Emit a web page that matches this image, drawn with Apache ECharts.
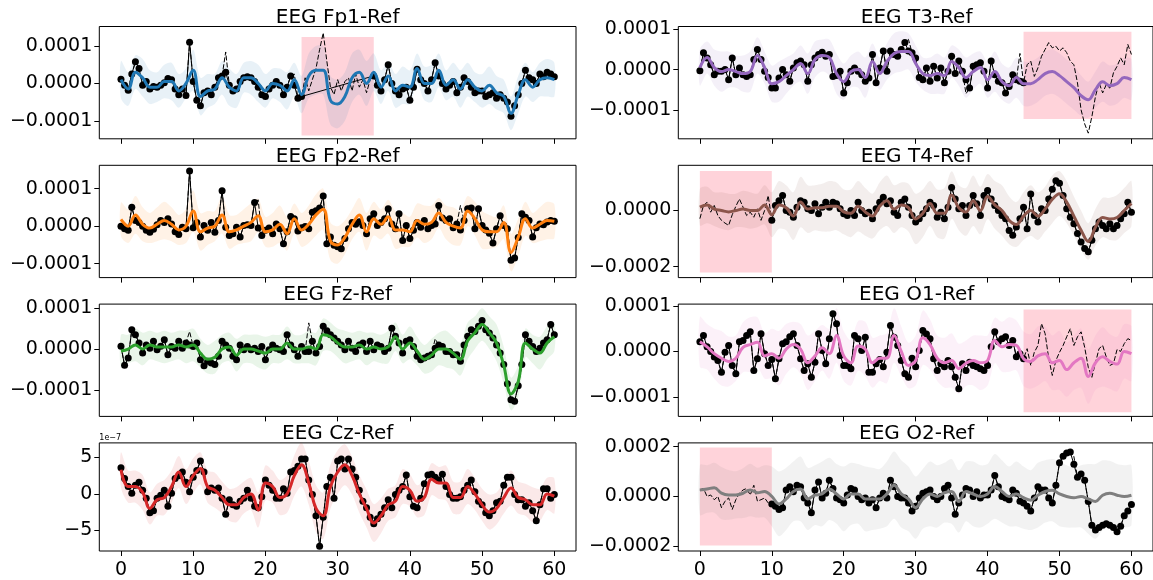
<!DOCTYPE html>
<html><head><meta charset="utf-8">
<script src="https://cdn.jsdelivr.net/npm/echarts@6/dist/echarts.min.js"></script>
<style>html,body{margin:0;padding:0;background:#fff}#c{width:1153px;height:580px}</style>
</head><body><div id="c"></div>
<script>
const N = null;
// x positions: observations every 0.5 s (0..60), mean / band every 1 s (0..60)
const xTickValues = [0, 10, 20, 30, 40, 50, 60];
const yTicks10 = [-10, 0, 10];
const yTicks20 = [-20, 0, 20];
const yTicksT4 = [-20, 0];
const yTicksCz = [-5, 0, 5];

// ---- EEG Fp1-Ref (units 1e-5) ----
const fp1Obs = [
1.1,-0.5,-1.8,2.5,5.8,4.0,-0.5,0.5,-1.5,-0.8,
-1.0,-0.5,0.2,1.3,1.0,-1.5,-3.0,-1.5,-3.2,11.0,
0.5,-4.5,-6.0,-2.5,-2.0,-3.0,-1.0,1.5,2.0,3.0,
-0.5,-2.0,-1.5,0.5,1.5,1.8,1.5,0.5,-1.0,-3.0,
-3.5,-1.5,-0.5,0.5,-0.5,-3.0,-1.0,2.0,-0.5,-4.0,
-3.5,
N,N,N,N,N,N,N,N,N,N,N,N,N,N,N,N,N,N,N,
2,-0.5,-2,1,5,0,-2,-3,-1.5,-1,
-4.5,-1,3.8,1,0,-2,1,5.5,2,0,
-1.5,-0.5,0.5,-2.5,-1,1.5,0.5,-1,-2.5,-2,
-2,-3.5,-3,-2.5,-4,-3,-4,-5,-8.8,-6,
-3,0,3.5,1.5,1,0,2.5,1.8,3,2.5,
1.8];
const fp1GapTruthStart = 25.5;
const fp1GapTruth = [1.5,-2,1,4,9,13.5,6,-1,-3,1,-2,0.5,1.5,-2,2.5,-1,1,-2.5,1];
const fp1TruthDiff = [[14.5, 8.4], [24, 2.5]];
const fp1Mean = [
1,-1.5,3,1.5,-1,-1,0.5,0.5,-2,0,
3.5,-3.5,-2,-1.5,1.5,-1,-2,1.5,1.5,0,
-2,0,-0.5,-2,1,-3,2,3.5,3.5,-4.5,
-5.5,-3.5,1.5,3,0,3,-1,2,-2,-0.5,
-1,4,0,0,3.5,-0.5,1,-1.5,1,-1,
-2,-0.5,-2.5,-3.5,-8,-3,1,-1,1,1.5,
1];
const fp1Width = [
5,4.5,4.5,5,4.5,4,4.5,5,4.5,4,
5.5,5,4.5,4,4.5,5,4.5,4,4.5,5,
4.5,4,4.5,5,4.5,5,6,6.5,6.5,6.5,
6.5,6.5,6.5,6,6,5,4.5,4,4.5,5,
4.5,4,4.5,5,4.5,4,4.5,5,4.5,4,
4.5,5,4.5,4.5,4.5,5,4.5,4,4.5,5,
4.5];
const fp1Region = [25, 35, -13.9, 12.4];
const fp1YRange = [-14.8, 15.2];

// ---- EEG Fp2-Ref ----
const fp2Obs = [
0,-0.7,-1.1,5.0,1.5,1.0,0,-1.1,-1.6,-0.8,
0.4,1.5,1.0,2.0,0.6,-1.5,-2.2,-0.3,-0.7,14.7,
-0.4,1.0,-2.9,0.2,-1.1,1.0,-1.6,1.5,9.4,-0.3,
-2.5,-2.0,-0.3,-2.9,0.2,0.4,0.2,6.3,-0.5,-2.5,
-1.1,-0.5,-2.0,0.6,-0.7,-4.7,-1.5,2.6,2.0,-1.3,
-0.4,-0.1,-0.7,3.7,4.1,4.8,8.0,-4.7,-2.9,-5.1,
-5.5,-6.0,-3.3,-0.7,1.0,0.5,1.2,0.2,-2.0,2.0,
3.3,0.2,1.0,2.0,4.6,0.6,-0.7,3.3,-3.8,0.2,
-3.3,-1.1,1.0,-0.3,1.5,-0.7,0.2,0.6,5.5,2.2,
1.5,2.0,-0.4,0.6,-1.0,1.5,4.6,4.8,-0.7,4.6,
0.2,-1.0,-1.9,-4.5,-0.7,2.8,0.2,-0.7,-9.1,-8.5,
-3.0,3.3,2.4,1.5,-2.9,-0.4,0.6,0.4,1.1,1.5,
1.3];
const fp2TruthDiff = [[19, 7.0], [47, 5.5]];
const fp2Mean = [
1.8,0,3,0.5,-0.5,0.5,1.5,0.5,-1,0,
4,-1.5,-0.5,0,3,-1.5,-1,0,1,2.8,
-1.5,-1,0.5,-2,2,-1,0.5,3,4.5,-4,
-5,-3,0.5,3,-1.5,2,0.5,2.5,-1,-1,
-1.5,1.5,0.5,1,3.5,1,0,-0.5,4,2,
-1,-1.5,-1.5,1,-7,-3,2,-0.5,0.5,1.5,
1.3];
const fp2Width = [
4.5,4.5,5,4.5,4,4.5,5,4.5,4,4.5,
5.5,5,4.5,4,5,4.5,4,4.5,5,4.5,
4,4.5,5,4.5,4,4.5,5,5.5,5.5,5,
5,4.5,4,4.5,5,4.5,4,4.5,5,4.5,
4,4.5,5,4.5,4,4.5,5,4.5,4,4.5,
5,4.5,4,4.5,5,5,4.5,4,4.5,5,
4.5];
const fp2YRange = [-13.7, 16.2];

// ---- EEG Fz-Ref ----
const fzObs = [
0.7,-4.0,-2.2,4.7,3.5,1.5,-1.0,1.0,0.2,1.9,
-0.2,0.7,2.3,-1.4,0.6,0.2,1.9,0.2,1.5,1.0,
0.6,1.5,-2.6,-4.1,-3.0,-3.4,-3.8,-1.8,1.9,1.0,
0.2,-1.8,-2.6,1.0,-0.2,0.6,-0.2,0.2,-0.6,0.6,
-2.6,-0.2,1.0,0.2,-0.2,-0.6,3.5,1.0,-0.2,-1.8,
0.6,-0.6,-0.6,1.9,-1.0,0.6,5.6,4.5,3.5,2.7,
1.9,1.0,-0.2,1.9,0.2,-0.6,1.0,1.5,-0.6,1.9,
-0.2,1.0,0.6,-0.6,0.2,5.1,3.1,1.5,-1.0,1.9,
2.3,0.6,-1.8,-2.6,-2.2,-1.8,-1.4,0.2,1.0,0.6,
-0.6,-0.6,-1.4,-1.4,-3.0,1.0,3.1,4.7,4.3,5.6,
7.0,4.7,3.9,2.7,1.0,-1.0,-3.8,-8.5,-12.4,-12.8,
-9.0,-3.8,3.5,1.9,0.6,-0.6,0.2,1.5,2.3,6.0,
3.5];
const fzTruthDiff = [[9.5, 4.3], [26, 6.4], [43.5, 2.5]];
const fzMean = [
-0.5,0,1,0,1,0.5,0.5,0.5,1,0.5,
1,-1,-2.5,-2,0,0.5,-1.5,0,0,-0.5,
-1,0,0,1.5,0,0,0.5,0,3.5,3,
1.5,0.5,0.5,1,0,0.5,0,0.5,3,0,
1.5,-0.5,-2.5,-1.5,0,0,-1,-2.5,2,4,
6,4,1.5,-4,-11,-8,1.5,0,-1,1.5,
3];
const fzWidth = [
4,3.5,4,4,3.5,3.5,4,3.5,3.5,4,
4,3.5,3.5,4,3.5,3.5,4,3.5,3.5,4,
4,3.5,3.5,4,3.5,3.5,4,4,4,3.5,
3.5,4,3.5,3.5,4,3.5,3.5,4,3.5,3.5,
4,3.5,3.5,4,4,4.5,4,4,4.5,4,
4,4,4.5,4.5,4,4,3.5,3.5,4,4,
3.5];
const fzYRange = [-16.5, 11.0];

// ---- EEG Cz-Ref (units 1e-7) ----
const czObs = [
3.6,2.1,1.0,0.1,1.2,1.6,0.5,-0.6,-2.6,-2.3,
-0.6,-0.2,0.5,-1.7,0.1,2.1,2.5,3.0,1.6,0.3,
2.3,3.2,4.5,3.0,0.3,0.8,0.5,0.8,-0.6,-2.8,
-0.8,-1.5,-1.7,-1.0,-0.6,0.5,-0.6,-1.7,-1.9,-0.4,
1.9,1.2,0.5,-0.6,-0.6,0.7,0.1,3.0,3.2,3.8,
4.8,4.8,1.9,-0.1,-3.0,-7.2,-3.2,1.0,2.3,-0.6,
4.5,4.8,3.4,4.8,3.4,2.3,0.5,-1.0,-1.9,-3.2,
-4.1,-3.4,-2.8,-1.9,-0.8,-1.9,-0.1,0.5,1.0,2.6,
-0.4,-1.7,-1.9,-0.6,1.4,2.6,2.7,2.3,1.9,2.7,
1.0,-0.1,-0.6,-0.6,-0.4,0.5,1.2,1.9,0.3,-1.0,
-1.5,-2.6,-3.0,-2.3,-1.2,-1.0,1.2,2.3,2.3,-0.1,
-0.8,-0.8,-1.7,-1.2,-2.3,-3.7,-1.5,0.7,0.7,-0.6,
-0.1];
const czTruthDiff = [];
const czMean = [
3.3,1.0,1.0,0.2,-2.0,-0.8,-0.5,1.0,3.0,1.0,
2.5,3.5,1.0,0.5,-0.5,-1.5,-1.5,-0.5,0,-2.2,
1.5,1.0,-0.5,0,2.5,4.0,1.5,-2.0,-3.0,1.0,
3.0,4.0,2.5,0,-2.0,-4.0,-3.0,-1.5,-1.0,1.0,
0.5,-1.0,-0.5,2.0,1.5,1.5,-0.5,-0.5,1.0,0,
-1.5,-2.5,-2.0,-0.5,0.8,-0.5,-0.8,-1.5,-1.5,0,
-0.3];
const czWidth = [
2.4,2.2,2.2,2.4,2.2,2.2,2.4,2.2,2.2,2.4,
2.4,2.2,2.2,2.4,2.2,2.2,2.4,2.2,2.2,2.4,
2.4,2.2,2.4,2.6,2.8,3.0,3.0,3.2,3.2,3.0,
3.0,2.8,2.6,2.6,2.6,2.6,2.4,2.2,2.2,2.4,
2.2,2.2,2.4,2.2,2.2,2.4,2.2,2.2,2.4,2.2,
2.2,2.4,2.2,2.2,2.4,2.2,2.2,2.4,2.2,2.2,
2.4];
const czYRange = [-7.84, 7.0];

// ---- EEG T3-Ref ----
const t3Obs = [
-0.3,4.2,2.9,1.2,-1.3,-0.4,-0.4,0,-2.5,2.9,
-1.3,0.4,-1.3,-1.7,-1.3,2.5,5.0,2.5,-0.4,-2.0,
-4.6,-4.6,-2.1,0,-1.3,-2.9,0.4,1.7,2.1,1.2,
-2.9,1.2,2.9,3.75,4.3,3.3,3.75,-1.7,-1.5,-0.4,
-5.8,-3.3,-0.4,0.4,-0.4,-1.3,-2.9,-2.1,3.75,-3.3,
0.4,4.6,-0.4,4.6,3.75,3.3,5.0,6.7,4.6,4.2,
2.9,-2.0,-2.5,0.4,-2.9,0.8,-2.1,0.4,-3.3,-0.4,
3.3,-1.0,2.1,-0.4,-2.5,-4.6,0.8,1.2,1.7,-0.4,
-4.6,2.1,-1.3,-2.9,-3.3,-5.8,-4.2,-1.3,-2.5,-2.9,
-3.3,
N,N,N,N,N,N,N,N,N,N,N,N,N,N,N,N,N,N,N,N,N,N,N,N,N,N,N,N,N,N];
const t3GapTruthStart = 45.5;
const t3GapTruth = [1.2,2.1,-1.7,0.4,3.3,5.0,6.7,5.4,5.8,4.6,5.4,4.2,2.1,1.2,-3.3,-10,-13.5,-15.8,-11.7,-6.7,-3.3,-5.8,-3.75,-4.6,-0.8,0.8,2.9,1.2,6.25,3.75];
const t3TruthDiff = [[29, 7.5], [37, -6.0], [44.5, 4.0]];
const t3Mean = [
0.5,3,0.5,-0.5,0,-0.5,-1,-0.5,3.5,0.5,
-3.5,-3,-1.5,0,1.5,-1,2.5,3.5,3,-1,
-3,-0.5,0,-2,2,-1,2,4,4.5,4.5,
1.5,-1,-1.5,-1,-1.5,2,0.5,-2,-0.5,0.5,
-2.5,-0.5,-3,-4,-2,-3.5,-3.5,-2.5,-1,-0.5,
-1.5,-3,-4.5,-6.5,-7.5,-5,-3,-4,-3.5,-2,
-2.5];
const t3Width = [
4.5,4,4.5,5,4.5,4,4.5,5,4.5,4,
4.5,5,4.5,4,4.5,5,4.5,4,4.5,5,
4.5,4,4.5,5,4.5,4,4.5,5,5,4.5,
4.5,4,4.5,5,4.5,4,4.5,5,4.5,4,
4.5,5,4.5,4.5,5,5.5,5.5,5.5,5.5,5.5,
5.5,5.5,5.5,5,4.5,4.5,5,5,5,5,
5];
const t3Region = [45, 60, -12.3, 9.4];
const t3YRange = [-17.2, 10.7];

// ---- EEG T4-Ref ----
const t4Obs = [
N,N,N,N,N,N,N,N,N,N,N,N,N,N,N,N,N,N,N,N,
-3.5,1.8,3.5,5.3,0,-0.6,-2.4,1.2,3.5,2.9,
0.6,0,2.4,-1.2,1.2,2.9,1.2,2.9,2.4,0.6,
-1.2,-1.8,0,-1.8,2.9,0,-1.2,-0.6,-2.9,0.6,
2.9,4.7,2.4,3.5,-0.6,-1.8,2.9,4.1,1.2,-1.8,
-4.1,-2.9,-1.2,0.6,2.9,1.8,-2.4,-0.6,-2.9,1.2,
8.2,4.1,0.6,1.8,-1.8,1.8,5.3,2.4,-1.8,5.3,
7.1,4.1,1.8,0,-1.8,-2.9,-7.1,-8.8,-5.9,-2.9,
1.2,-6.5,5.9,-1.8,-4.1,0.6,0,4.1,7.6,10.6,
9.7,5.3,0.6,-2.4,-4.7,-8.2,-11.2,-13.5,-14.7,-10.6,
-6.5,-4.1,-5.3,-6.5,-4.7,-6.5,-5.3,-2.9,-1.2,2.9,
-0.6];
const t4GapTruthStart = 0;
const t4GapTruth = [-2.9,1.8,2.9,-0.6,1.8,-1.8,-3.5,-4.5,-5.3,-1.5,1.5,4.1,1.2,-1.8,-0.6,-2.4,0.6,-3.5,0,5.3];
const t4TruthDiff = [];
const t4Mean = [
1.2,2.0,0.5,0,-0.5,0,0.5,0,0,2,
-1.5,2,1,-2,3,0.5,1,1,1.5,1.5,
-0.5,-1,1.5,-0.5,-2,1.5,3.5,0.5,2,1,
-3,-1,2.5,-1,-1,5.5,1,-0.5,3.5,0,
5,2,0,-3.5,-5,-2,0,-2,0.5,4,
6,3,-2,-7,-11,-6,-2.5,-3,-2.5,0,
2.5];
const t4Width = [
6.5,6.5,6,6.5,6.5,6,6.5,6.5,6,7,
8,8.5,8,8.5,9,8.5,8,8.5,9,8.5,
8,8.5,9,8.5,8,8.5,9,8.5,8,8.5,
9,8.5,8,8.5,9,8.5,8,8.5,9,8.5,
8,8.5,9,8.5,8,8.5,9,8.5,8,8.5,
8,7.5,7,7,6.5,6.5,7,7.5,8,8,
8];
const t4Region = [0, 10, -22.1, 14.1];
const t4YRange = [-23.9, 16.1];

// ---- EEG O1-Ref ----
const o1Obs = [
2.1,3.5,1.0,0,-1.25,-2.0,-4.6,-0.2,1.3,-3.1,
-4.9,2.1,2.4,3.5,4.3,-4.2,-1.6,3.9,-0.5,-3.1,
-1.8,-6.0,-1.6,1.7,2.1,3.2,3.9,1.3,-1.6,-4.2,
-2.7,-5.7,-2.4,3.9,0.2,-2.7,2.8,8.3,6.1,-0.9,
-3.1,-3.1,-3.8,3.5,2.8,0.2,3.1,-4.6,-4.6,-2.7,
-1.8,-3.4,-0.2,5.7,3.1,1.3,-2.0,-4.9,-5.7,-1.5,
-3.4,0.2,4.6,3.8,2.8,-1.6,-4.2,-2.7,-3.4,-2.0,
-3.4,-5.7,-8.2,-2.7,-4.2,-2.4,-3.1,-3.4,-3.8,-4.2,
-3.1,1.0,4.3,2.1,2.8,3.2,1.3,2.4,-1.2,-0.5,
-1.6,
N,N,N,N,N,N,N,N,N,N,N,N,N,N,N,N,N,N,N,N,N,N,N,N,N,N,N,N,N,N];
const o1GapTruthStart = 45.5;
const o1GapTruth = [0.6,-3.1,-0.2,1.3,6.1,3.9,-1.5,-5.3,-2.0,-0.2,1.3,3.2,5.0,1.3,3.2,4.3,0.9,-3.5,-5.7,-2.5,0.6,1.3,-1.2,-3.1,-2.7,0.4,0,1.7,2.8,2.4];
const o1TruthDiff = [];
const o1Mean = [
2.1,1.0,-0.5,-1.5,-2.2,-1.5,0.9,1.5,2.0,-1.0,
-0.5,-1.5,0.5,1.5,0.5,-2.5,-1.0,0.8,-0.5,3.5,
-1.0,-2.5,1.2,0.5,-2.5,-1.5,-1.5,3.5,0,-3.1,
-2.0,3.0,1.5,-1.5,-2.5,-2.0,-3.8,-2.6,-2.0,-2.5,
-2.0,2.4,1.0,1.5,1.3,-1.6,-2.2,-1.0,-0.5,-2.5,
-2.0,-4.0,-2.5,-1.5,-5.5,-2.5,-1.2,-2.2,-2.8,0,
-0.5];
const o1Width = [
5.5,5,5.5,6,5.5,5,5.5,6,5.5,5,
5.5,6,5.5,5,5.5,6,5.5,5,5.5,6,
5.5,5,5.5,6,5.5,5,5.5,6,5.5,5,
5.5,6,5.5,5,5.5,6,5.5,5,5.5,6,
5.5,5,5.5,6,5.5,6,6,6.5,6,6,
6.5,6,6,6.5,6,6,6.5,6,6,6,
6];
const o1Region = [45, 60, -13.4, 9.2];
const o1YRange = [-14.3, 10.4];

// ---- EEG O2-Ref ----
const o2Obs = [
N,N,N,N,N,N,N,N,N,N,N,N,N,N,N,N,N,N,N,N,
-3,-3.9,-5.2,-4.5,2.6,3.9,1.9,4.5,3.9,-0.6,
-2.6,-6.5,2.6,5.8,-0.6,1.3,6.5,3.2,-0.6,-1.3,
-2.6,0.6,3.2,2.6,0,-1.3,-0.6,-2.6,-1.3,-4.5,
-0.6,1.3,-0.6,6.5,3.9,0,-0.6,-0.6,-2.6,-5.8,
-3.9,-0.6,1.3,1.9,2.6,0,-1.3,0,3.2,4.5,
-0.6,-7.1,-2.6,0.6,3.2,2.6,0,1.9,-0.6,0.6,
0.6,2.6,8.4,3.9,0,-0.6,-1.3,2.6,1.3,-1.9,
-2.6,-3.9,-5.8,-0.6,3.9,2.6,2.6,-0.6,-2.6,4.5,
13.5,16.1,17.4,17.8,12.9,7.7,9.0,6.5,-2.0,-11.6,
-13.5,-12.5,-11.6,-11.0,-11.6,-12.5,-14.2,-12.0,-7.7,-5.8,
-3.2];
const o2GapTruthStart = 0;
const o2GapTruth = [2.6,3.2,0,0.6,-1.3,0,-4.5,-1.9,-0.6,-5.2,-1.3,1.3,2.6,3.2,0.6,4.5,-1.9,-1.3,-0.6,-2.6];
const o2TruthDiff = [[52, 16.0]];
const o2Mean = [
2.6,3.0,3.5,1.3,0.6,0.6,1.3,2.6,1.5,2,
0,-3,-1,2,3,-1,0.5,1,3,1,
-1,1,1,-1,-1,-1,1,4.5,1,-1,
-4.5,-1,1,0,1.5,2,-2,2,1,0,
1,4,2,0,1,-0.5,-1.5,0.5,2,2.5,
1,0,-0.5,0,-1,-2,0.5,1.3,0.5,0,
0.5];
const o2Width = [
10,9.5,10,10.5,10,9.5,10,10.5,10,10.5,
12,13,12.5,12,13,12.5,12,13,12.5,12,
13,12.5,12,13,12.5,12,13,13.5,13.5,13,
12.5,12,13,12.5,12,13,12.5,12,13,12.5,
12,13,12.5,12,13,12.5,12,13,12.5,12.5,
13,12.5,12,12.5,14,15,14,13,12.5,12.5,
12];
const o2Region = [0, 10, -19.7, 19.7];
const o2YRange = [-21.9, 21.5];

// ---------- layout & style (kept separate from data) ----------
const LAYOUT = { lefts: [99.3, 678.3], widths: [476.7, 476.7], tops: [26.5, 165.3, 304.1, 442.9], height: 112.3 };
const FONT = 'DejaVu Sans';
const PINK = 'rgba(255,192,203,0.7)';

const panels = [
  { title: 'EEG Fp1-Ref', row: 0, col: 0, color: '#1f77b4', band: 'rgba(31,119,180,0.1)', obs: fp1Obs, gapTruth: fp1GapTruth, gapStart: fp1GapTruthStart, truthDiff: fp1TruthDiff, mean: fp1Mean, width: fp1Width, region: fp1Region, yRange: fp1YRange, yTicks: yTicks10, unit: 'e5' },
  { title: 'EEG Fp2-Ref', row: 1, col: 0, color: '#ff7f0e', band: 'rgba(255,127,14,0.1)', obs: fp2Obs, gapTruth: null, truthDiff: fp2TruthDiff, mean: fp2Mean, width: fp2Width, region: null, yRange: fp2YRange, yTicks: yTicks10, unit: 'e5' },
  { title: 'EEG Fz-Ref', row: 2, col: 0, color: '#2ca02c', band: 'rgba(44,160,44,0.1)', obs: fzObs, gapTruth: null, truthDiff: fzTruthDiff, mean: fzMean, width: fzWidth, region: null, yRange: fzYRange, yTicks: yTicks10, unit: 'e5' },
  { title: 'EEG Cz-Ref', row: 3, col: 0, color: '#d62728', band: 'rgba(214,39,40,0.1)', obs: czObs, gapTruth: null, truthDiff: czTruthDiff, mean: czMean, width: czWidth, region: null, yRange: czYRange, yTicks: yTicksCz, unit: 'e7' },
  { title: 'EEG T3-Ref', row: 0, col: 1, color: '#9467bd', band: 'rgba(148,103,189,0.1)', obs: t3Obs, gapTruth: t3GapTruth, gapStart: t3GapTruthStart, truthDiff: t3TruthDiff, mean: t3Mean, width: t3Width, region: t3Region, yRange: t3YRange, yTicks: yTicks10, unit: 'e5' },
  { title: 'EEG T4-Ref', row: 1, col: 1, color: '#8c564b', band: 'rgba(140,86,75,0.1)', obs: t4Obs, gapTruth: t4GapTruth, gapStart: t4GapTruthStart, truthDiff: t4TruthDiff, mean: t4Mean, width: t4Width, region: t4Region, yRange: t4YRange, yTicks: yTicksT4, unit: 'e5' },
  { title: 'EEG O1-Ref', row: 2, col: 1, color: '#e377c2', band: 'rgba(227,119,194,0.1)', obs: o1Obs, gapTruth: o1GapTruth, gapStart: o1GapTruthStart, truthDiff: o1TruthDiff, mean: o1Mean, width: o1Width, region: o1Region, yRange: o1YRange, yTicks: yTicks10, unit: 'e5' },
  { title: 'EEG O2-Ref', row: 3, col: 1, color: '#7f7f7f', band: 'rgba(127,127,127,0.1)', obs: o2Obs, gapTruth: o2GapTruth, gapStart: o2GapTruthStart, truthDiff: o2TruthDiff, mean: o2Mean, width: o2Width, region: o2Region, yRange: o2YRange, yTicks: yTicks20, unit: 'e5' }
];

const MINUS = '\u2212';
const fmtE5 = v => v === 0 ? '0.0000' : (v < 0 ? MINUS : '') + (Math.abs(v) * 1e-5).toFixed(4);
const fmtE7 = v => v < 0 ? MINUS + (-v) : String(v);

const grids = [], xAxes = [], yAxes = [], series = [], graphics = [];
panels.forEach((p, i) => {
  const left = LAYOUT.lefts[p.col], width = LAYOUT.widths[p.col];
  const top = LAYOUT.tops[p.row], height = LAYOUT.height;
  grids.push({ left, top, width, height, show: true, borderColor: '#000', borderWidth: 1, backgroundColor: 'rgba(0,0,0,0)' });
  const tickStyle = { show: true, length: 5, inside: false, lineStyle: { color: '#000', width: 1 } };
  xAxes.push({
    type: 'value', gridIndex: i, min: -3, max: 63, position: 'bottom',
    axisLine: { show: false, onZero: false },
    axisTick: Object.assign({ customValues: xTickValues }, tickStyle),
    axisLabel: { show: p.row === 3, customValues: xTickValues, fontSize: 19, color: '#000', fontFamily: FONT, margin: 10 },
    splitLine: { show: false }
  });
  yAxes.push({
    type: 'value', gridIndex: i, min: p.yRange[0], max: p.yRange[1], position: 'left',
    axisLine: { show: false, onZero: false },
    axisTick: Object.assign({ customValues: p.yTicks }, tickStyle),
    axisLabel: { customValues: p.yTicks, fontSize: 19, color: '#000', fontFamily: FONT, margin: 7,
      formatter: p.unit === 'e7' ? fmtE7 : fmtE5 },
    splitLine: { show: false }
  });

  // pink region of missing observations
  if (p.region) {
    series.push({
      type: 'custom', xAxisIndex: i, yAxisIndex: i, z: 1, silent: true,
      data: [p.region],
      renderItem: (params, api) => {
        const a = api.coord([api.value(0), api.value(3)]);
        const b = api.coord([api.value(1), api.value(2)]);
        return { type: 'rect', shape: { x: a[0], y: a[1], width: b[0] - a[0], height: b[1] - a[1] }, style: { fill: PINK } };
      }
    });
  }

  // uncertainty band (mean ± width), drawn through the axis scales
  const bandPts = p.mean.map((m, k) => [k, m - p.width[k], m + p.width[k]]);
  series.push({
    type: 'custom', xAxisIndex: i, yAxisIndex: i, z: 2, silent: true,
    data: [bandPts[0]],
    renderItem: (params, api) => {
      const up = bandPts.map(d => api.coord([d[0], d[2]]));
      const lo = bandPts.map(d => api.coord([d[0], d[1]])).reverse();
      return { type: 'polygon', shape: { points: up.concat(lo), smooth: 0.3 }, style: { fill: p.band } };
    }
  });

  // observations
  const obsPts = [];
  p.obs.forEach((v, k) => { if (v !== null) obsPts.push([k * 0.5, v]); });
  series.push({
    type: 'line', xAxisIndex: i, yAxisIndex: i, z: 3, data: obsPts,
    symbol: 'circle', symbolSize: 7, itemStyle: { color: '#000', borderWidth: 0 },
    lineStyle: { color: '#000', width: 1 }, silent: true
  });

  // true signal (dashed): observations, the hidden stretch, and the points where it differs
  const diffMap = {};
  p.truthDiff.forEach(d => { diffMap[Math.round(d[0] * 2)] = d[1]; });
  const truthPts = p.obs.map((v, k) => {
    let y = v;
    if (y === null && p.gapTruth) y = p.gapTruth[Math.round((k * 0.5 - p.gapStart) / 0.5)];
    if (diffMap[k] !== undefined) y = diffMap[k];
    return [k * 0.5, y === undefined ? null : y];
  });
  series.push({
    type: 'line', xAxisIndex: i, yAxisIndex: i, z: 4, data: truthPts, symbol: 'none',
    lineStyle: { color: '#000', width: 1, type: [5, 2] }, silent: true
  });

  // predictive mean
  series.push({
    type: 'line', xAxisIndex: i, yAxisIndex: i, z: 5, data: p.mean.map((m, k) => [k, m]),
    symbol: 'none', smooth: 0.4, lineStyle: { color: p.color, width: 3 }, silent: true
  });

  graphics.push({
    type: 'text', x: left + width / 2, y: top - 9, silent: true,
    style: { text: p.title, fontSize: 20, fontFamily: FONT, fill: '#000', align: 'center', verticalAlign: 'middle', textAlign: 'center', textVerticalAlign: 'middle' }
  });
  if (p.unit === 'e7') {
    graphics.push({
      type: 'text', x: left, y: top - 5, silent: true,
      style: { text: '1e\u22127', fontSize: 8, fontFamily: FONT, fill: '#000', align: 'left', verticalAlign: 'middle', textAlign: 'left', textVerticalAlign: 'middle' }
    });
  }
});

const chart = echarts.init(document.getElementById('c'), null, { renderer: 'canvas', width: 1153, height: 580 });
chart.setOption({
  animation: false,
  backgroundColor: '#fff',
  grid: grids, xAxis: xAxes, yAxis: yAxes, series: series,
  graphic: graphics
});
</script>
</body></html>
